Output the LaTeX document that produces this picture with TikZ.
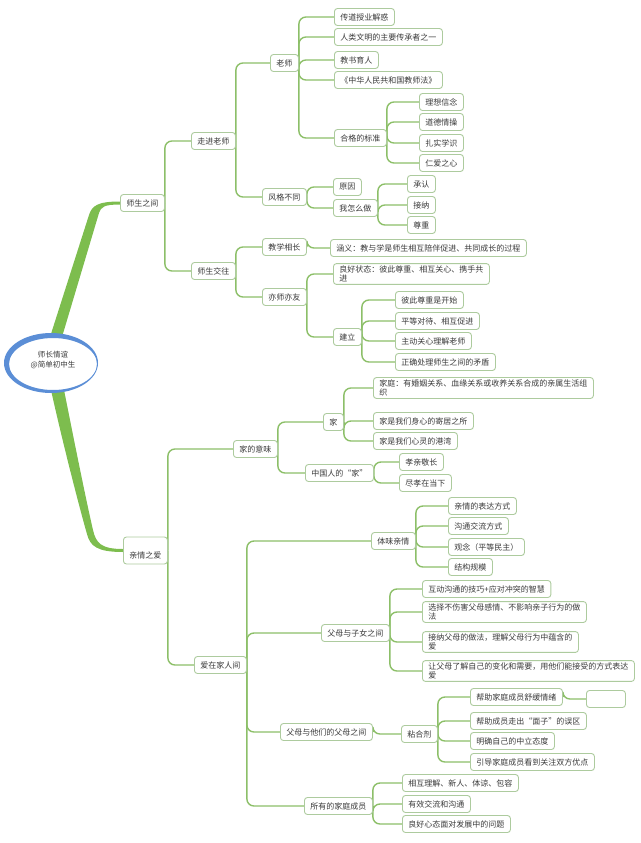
\documentclass[tikz,border=0pt]{standalone}
\usepackage{fontspec}
\setmainfont{Noto Sans CJK SC}
\usetikzlibrary{backgrounds,calc}
\definecolor{boxc}{HTML}{ADCB9E}
\definecolor{linec}{HTML}{8CBF68}
\definecolor{branchc}{HTML}{7DBD4E}
\definecolor{txt}{HTML}{3A3A3A}
\definecolor{ringc}{HTML}{5B8ED6}
\begin{document}
\begin{tikzpicture}[x=1pt,y=-1pt,
  box/.style={draw=boxc, line width=0.9pt, rounded corners=3pt, fill=white, text=txt,
    font=\fontsize{8}{9.5}\selectfont, inner xsep=6pt, inner ysep=2pt,
    minimum height=17pt, anchor=west, align=left},
  conn/.style={draw=linec, line width=1.4pt, rounded corners=7pt},
  roottext/.style={text=txt, font=\fontsize{7.5}{10}\selectfont, align=center, inner sep=0pt}
]
\useasboundingbox (0,0) rectangle (640,843);

% level 1
\node[box] (a) at (120,203) {师生之间};
\node[box, minimum height=27pt, text height=17pt, text depth=1pt] (b) at (123,550.5) {亲情之爱};

% level 2
\node[box] (a1) at (191,141) {走进老师};
\node[box] (a2) at (191,271) {师生交往};
\node[box] (b1) at (233,449) {家的意味};
\node[box] (b2) at (194,665) {爱在家人间};

% level 3
\node[box] (a11) at (270,63) {老师};
\node[box] (a12) at (262,197) {风格不同};
\node[box] (a21) at (262,247) {教学相长};
\node[box] (a22) at (262,297) {亦师亦友};
\node[box] (b11) at (323,422) {家};
\node[box] (b12) at (305,473) {中国人的“家”};
\node[box] (b21) at (371,541) {体味亲情};
\node[box] (b22) at (321,633) {父母与子女之间};
\node[box] (b23) at (280,732) {父母与他们的父母之间};
\node[box] (b24) at (304,806) {所有的家庭成员};

% under 老师
\node[box] (t1) at (334,17) {传道授业解惑};
\node[box] (t2) at (334,37) {人类文明的主要传承者之一};
\node[box] (t3) at (334,60) {教书育人};
\node[box] (t4) at (334,80) {《中华人民共和国教师法》};
\node[box] (t5) at (334,138) {合格的标准};
\node[box] (s1) at (419,102) {理想信念};
\node[box] (s2) at (419,122) {道德情操};
\node[box] (s3) at (419,143) {扎实学识};
\node[box] (s4) at (419,163) {仁爱之心};

% under 风格不同
\node[box] (f1) at (333,187) {原因};
\node[box] (f2) at (333,208) {我怎么做};
\node[box] (w1) at (407,184) {承认};
\node[box] (w2) at (407,205) {接纳};
\node[box] (w3) at (407,225) {尊重};

% under 教学相长 / 亦师亦友
\node[box] (h1) at (330,248) {涵义：教与学是师生相互陪伴促进、共同成长的过程};
\node[box] (y1) at (333,274) {良好状态：彼此尊重、相互关心、携手共\\进};
\node[box] (y2) at (333,337) {建立};
\node[box] (j1) at (395,300) {彼此尊重是开始};
\node[box] (j2) at (395,321) {平等对待、相互促进};
\node[box] (j3) at (395,341) {主动关心理解老师};
\node[box] (j4) at (395,362) {正确处理师生之间的矛盾};

% under 家 / 中国人的家
\node[box] (k1) at (373,388) {家庭：有婚姻关系、血缘关系或收养关系合成的亲属生活组\\织};
\node[box] (k2) at (373,421) {家是我们身心的寄居之所};
\node[box] (k3) at (373,441) {家是我们心灵的港湾};
\node[box] (z1) at (399,462) {孝亲敬长};
\node[box] (z2) at (399,483) {尽孝在当下};

% under 体味亲情
\node[box] (q1) at (448,506) {亲情的表达方式};
\node[box] (q2) at (448,526) {沟通交流方式};
\node[box] (q3) at (448,547) {观念（平等民主）};
\node[box] (q4) at (448,567) {结构规模};

% under 父母与子女之间
\node[box] (p1) at (422,589) {互动沟通的技巧+应对冲突的智慧};
\node[box] (p2) at (422,612) {选择不伤害父母感情、不影响亲子行为的做\\法};
\node[box] (p3) at (422,642) {接纳父母的做法，理解父母行为中蕴含的\\爱};
\node[box] (p4) at (422,671) {让父母了解自己的变化和需要，用他们能接受的方式表达\\爱};

% under 父母与他们的父母之间
\node[box] (n0) at (401,734) {粘合剂};
\node[box] (n1) at (470,697) {帮助家庭成员舒缓情绪};
\node[box] (n2) at (470,721) {帮助成员走出“面子”的误区};
\node[box] (n3) at (470,741) {明确自己的中立态度};
\node[box] (n4) at (470,762) {引导家庭成员看到关注双方优点};
\node[box, minimum width=39pt] (ne) at (586,699) {};

% under 所有的家庭成员
\node[box] (m1) at (402,783) {相互理解、新人、体谅、包容};
\node[box] (m2) at (402,804) {有效交流和沟通};
\node[box] (m3) at (402,824) {良好心态面对发展中的问题};

% root
\fill[white] (52,363) ellipse [x radius=46, y radius=29];
\fill[ringc, even odd rule] (51,363) ellipse [x radius=47, y radius=30]
  (53,364) ellipse [x radius=44, y radius=26];
\node[roottext] (root) at (53,360) {师长情谊\\@简单初中生};

\begin{scope}[on background layer]
  % main branches
  \fill[branchc] (50,337) -- (89,215) .. controls (92,206) and (97,201.5) .. ($(a.west)+(0,-1.5)$)
    -- ($(a.west)+(0,1.5)$) .. controls (104,204.5) and (101,207) .. (99,213) -- (62,337) -- cycle;
  \fill[branchc] (51,390) .. controls (62,440) and (80,510) .. (87,534)
    .. controls (90,546) and (97,552) .. ($(b.west)+(0,1.5)$)
    -- ($(b.west)+(0,-1.5)$) .. controls (101,549) and (96,543) .. (93,530)
    .. controls (86,500) and (74,440) .. (64,390) -- cycle;
  % connectors
  \foreach \p/\c in {a/a1, a/a2, b/b1, b/b2,
      a1/a11, a1/a12, a2/a21, a2/a22,
      b1/b11, b1/b12, b2/b21, b2/b22, b2/b23, b2/b24,
      a11/t1, a11/t2, a11/t3, a11/t4, a11/t5,
      t5/s1, t5/s2, t5/s3, t5/s4,
      a12/f1, a12/f2, f2/w1, f2/w2, f2/w3,
      a21/h1, a22/y1, a22/y2, y2/j1, y2/j2, y2/j3, y2/j4,
      b11/k1, b11/k2, b11/k3, b12/z1, b12/z2,
      b21/q1, b21/q2, b21/q3, b21/q4,
      b22/p1, b22/p2, b22/p3, b22/p4,
      b23/n0, n0/n1, n0/n2, n0/n3, n0/n4, n1/ne,
      b24/m1, b24/m2, b24/m3}
    \draw[conn] (\p.east) |- (\c.west);
\end{scope}
\end{tikzpicture}
\end{document}
